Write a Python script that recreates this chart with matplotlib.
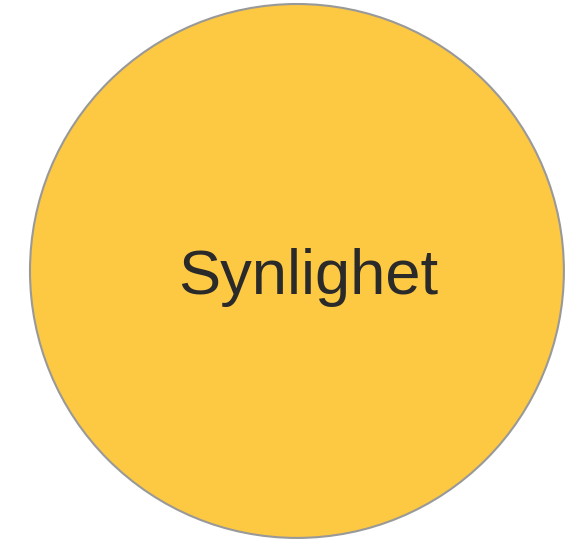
import matplotlib.pyplot as plt
from matplotlib.patches import Circle

labels = ["Synlighet"]
x_vals = [0.0]
y_vals = [0.0]
radii = [1.0]

fill_color = "#FDC942"
edge_color = "#999999"
text_color = "#2a2a2a"

fig = plt.figure(figsize=(5.8, 5.39), dpi=100)
ax = fig.add_axes([0, 0, 1, 1])

for lab, x, y, r in zip(labels, x_vals, y_vals, radii):
    ax.add_patch(Circle((x, y), r, facecolor=fill_color, edgecolor=edge_color, linewidth=1.5))
    ax.text(x + 0.043 * r, y - 0.085 * r, lab, fontsize=45.5, color=text_color,
            ha="center", va="baseline", family="Liberation Sans")

ax.set_xlim(-1.112, 1.060)
ax.set_ylim(-1.004, 1.015)
ax.set_aspect("equal")
ax.axis("off")

fig.savefig("out.png", dpi=100)
